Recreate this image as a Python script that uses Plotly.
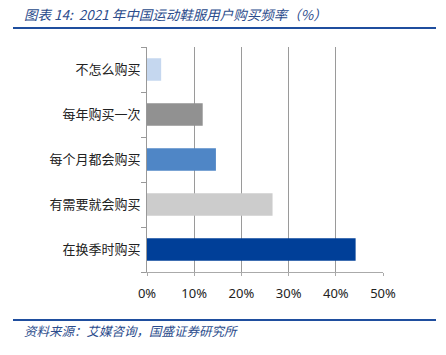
import plotly.graph_objects as go

categories = ["在换季时购买", "有需要就会购买", "每个月都会购买", "每年购买一次", "不怎么购买"]
values = [44.2, 26.6, 14.6, 11.8, 3.0]
colors = ["#003F98", "#CCCCCC", "#4F86C6", "#919191", "#C5D7EF"]
tick_vals = [0, 10, 20, 30, 40, 50]
tick_text = ["0%", "10%", "20%", "30%", "40%", "50%"]

title_text = "图表 14:  2021 年中国运动鞋服用户购买频率（%）"
source_text = "资料来源：艾媒咨询，国盛证券研究所"

L, R, T, B = 147, 63, 47, 83
PW, PH = 446 - L - R, 355 - T - B

def px(x):
    return (x - L) / PW

def py(y):
    return (355 - B - y) / PH

fig = go.Figure()
fig.add_trace(go.Bar(
    y=categories, x=values, orientation="h",
    marker=dict(color=colors, line=dict(width=0)),
    width=0.5,
))

fig.update_layout(
    width=446, height=355,
    margin=dict(l=L, r=R, t=T, b=B),
    paper_bgcolor="white", plot_bgcolor="white",
    showlegend=False,
    font=dict(family="Noto Sans CJK SC", size=12, color="#222222"),
    xaxis=dict(
        range=[0, 50], tickvals=tick_vals, ticktext=tick_text,
        showgrid=True, gridcolor="#9A9A9A", gridwidth=1,
        zeroline=False, showline=True, linecolor="#AAAAAA", linewidth=1,
        ticks="outside", ticklen=3, tickcolor="#AAAAAA",
        ticklabelstandoff=6,
        tickfont=dict(family="Noto Sans", size=13, color="#222222"),
    ),
    yaxis=dict(
        showline=True, linecolor="#999999", linewidth=1,
        ticks="outside", tickson="boundaries", ticklen=5, tickcolor="#999999",
        tickfont=dict(size=13, color="#222222"),
        ticksuffix=" ",
    ),
    shapes=[
        dict(type="line", xref="paper", yref="paper", x0=px(13), x1=px(436),
             y0=py(28), y1=py(28), line=dict(color="#1F4E9E", width=2)),
        dict(type="line", xref="paper", yref="paper", x0=px(13), x1=px(436),
             y0=py(320), y1=py(320), line=dict(color="#1F4E9E", width=2)),
    ],
    annotations=[
        dict(text="<i>" + title_text + "</i>", xref="paper", yref="paper",
             x=px(22), y=py(14), xanchor="left", yanchor="middle",
             showarrow=False, font=dict(size=13.5, color="#2B4C8C")),
        dict(text="<i>" + source_text + "</i>", xref="paper", yref="paper",
             x=px(22), y=py(330), xanchor="left", yanchor="middle",
             showarrow=False, font=dict(size=12.5, color="#2B4C8C")),
    ],
)

fig.write_html("out.html")
